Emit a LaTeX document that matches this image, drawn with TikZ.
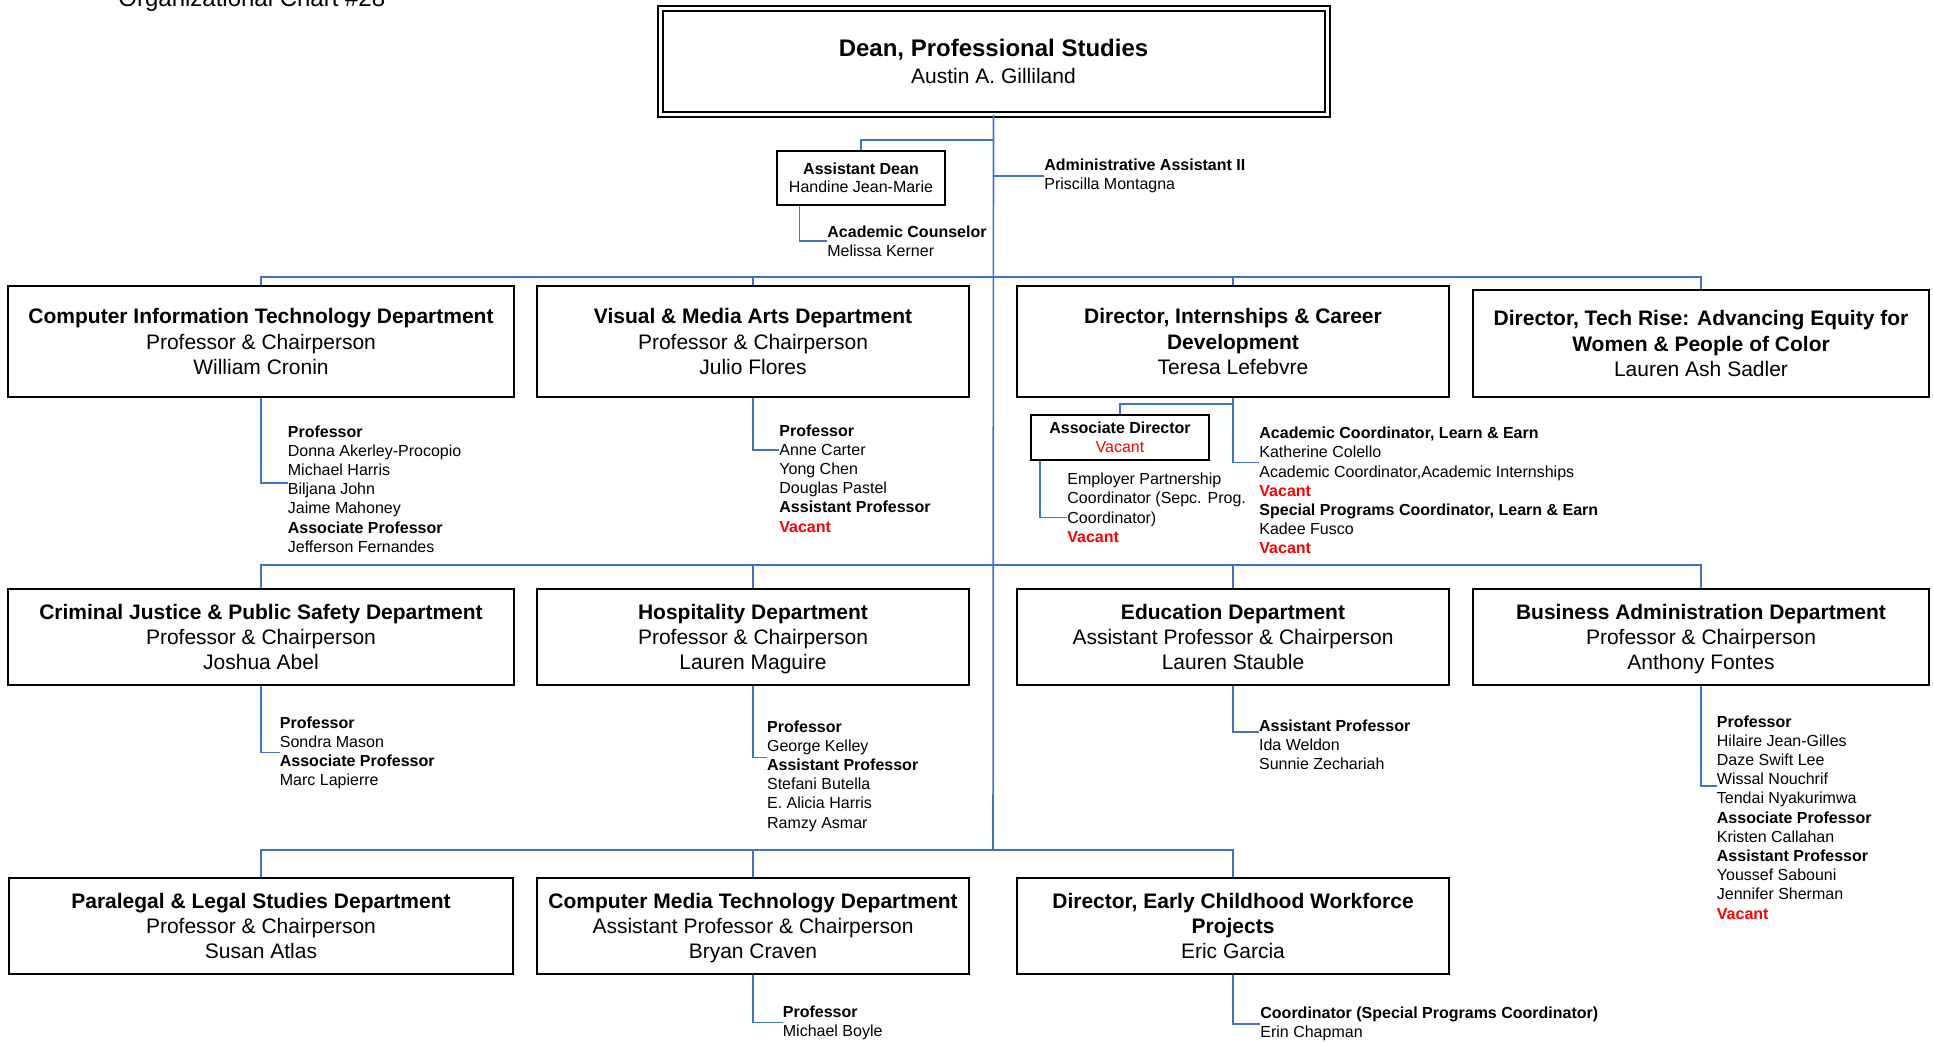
\documentclass[tikz,border=0pt]{standalone}
\usepackage{fontspec}
\setmainfont{Liberation Sans}
\usepackage{tikz}

\definecolor{linkblue}{RGB}{68,114,196}
\definecolor{vacred}{RGB}{255,0,0}
\newcommand{\vacant}{\textcolor{vacred}{\textbf{Vacant}}}

\begin{document}
\begin{tikzpicture}[x=0.5pt, y=-0.5pt,
  dept/.style={draw, line width=1pt, align=center, inner sep=2pt,
    minimum width=216pt, minimum height=48pt, font=\fontsize{10.5}{12.6}\selectfont},
  small/.style={draw, line width=1pt, align=center, inner sep=2pt,
    font=\fontsize{8}{9.4}\selectfont},
  staff/.style={anchor=north west, inner sep=0pt, align=left,
    font=\fontsize{8}{9.6}\selectfont},
  link/.style={draw=linkblue, line width=0.8pt}]
  \useasboundingbox (0,0) rectangle (1933,1041);

  \node[anchor=base west, inner sep=0pt, font=\fontsize{12}{14}\selectfont] (title) at (118,6) {Organizational Chart \#28};

  \node[draw, double, double distance=1.5pt, line width=1pt, align=center,
    minimum width=333.5pt, minimum height=52.75pt, font=\fontsize{10.5}{13.5}\selectfont]
    (dean) at (993.5,61.25) {{\fontsize{12}{13.5}\selectfont\bfseries Dean, Professional Studies}\\Austin A. Gilliland};

  \node[small, minimum width=84.4pt, minimum height=27.15pt] (adean) at (861,177.85)
    {\textbf{Assistant Dean}\\Handine Jean-Marie};
  \node[staff] (adsub) at (827,225) {\textbf{Academic Counselor}\\Melissa Kerner};
  \node[staff] (admin) at (1044,158.3) {\textbf{Administrative Assistant II}\\Priscilla Montagna};

  % first row
  \node[dept, minimum width=252.75pt, minimum height=55.5pt] (cit) at (261,341.5)
    {\textbf{Computer Information Technology Department}\\Professor \& Chairperson\\William Cronin};
  \node[dept, minimum height=55.5pt] (vma) at (753,341.5)
    {\textbf{Visual \& Media Arts Department}\\Professor \& Chairperson\\Julio Flores};
  \node[dept, minimum height=55.5pt] (di) at (1233,341.5)
    {\textbf{Director, Internships \& Career}\\\textbf{Development}\\Teresa Lefebvre};
  \node[dept, minimum width=228pt, minimum height=53.5pt] (tr) at (1701,343.5)
    {\textbf{Director, Tech Rise: Advancing Equity for}\\\textbf{Women \& People of Color}\\Lauren Ash Sadler};

  \node[staff] (citsub) at (287.5,425) {\textbf{Professor}\\Donna Akerley-Procopio\\Michael Harris\\Biljana John\\Jaime Mahoney\\\textbf{Associate Professor}\\Jefferson Fernandes};
  \node[staff] (vmasub) at (779,424) {\textbf{Professor}\\Anne Carter\\Yong Chen\\Douglas Pastel\\\textbf{Assistant Professor}\\\vacant};
  \node[small, minimum width=89pt, minimum height=22.5pt] (asdir) at (1120,437.2)
    {\textbf{Associate Director}\\\textcolor{vacred}{Vacant}};
  \node[staff] (epsub) at (1067,472.6) {Employer Partnership\\Coordinator (Sepc. Prog.\\Coordinator)\\\vacant};
  \node[staff] (disub) at (1259,426.6) {\textbf{Academic Coordinator, Learn \& Earn}\\Katherine Colello\\Academic Coordinator,Academic Internships\\\vacant\\\textbf{Special Programs Coordinator, Learn \& Earn}\\Kadee Fusco\\\vacant};

  % second row
  \node[dept, minimum width=252.75pt] (cj) at (261,637)
    {\textbf{Criminal Justice \& Public Safety Department}\\Professor \& Chairperson\\Joshua Abel};
  \node[dept] (hosp) at (753,637)
    {\textbf{Hospitality Department}\\Professor \& Chairperson\\\smash{Lauren Maguire}};
  \node[dept] (ed) at (1233,637)
    {\textbf{Education Department}\\Assistant Professor \& Chairperson\\Lauren Stauble};
  \node[dept, minimum width=228pt] (ba) at (1701,637)
    {\textbf{Business Administration Department}\\Professor \& Chairperson\\\smash{Anthony Fontes}};

  \node[staff] (cjsub) at (279.5,716) {\textbf{Professor}\\Sondra Mason\\\textbf{Associate Professor}\\Marc Lapierre};
  \node[staff] (hospsub) at (766.7,720) {\textbf{Professor}\\George Kelley\\\textbf{Assistant Professor}\\Stefani Butella\\E. Alicia Harris\\Ramzy Asmar};
  \node[staff] (edsub) at (1258.7,719) {\textbf{Assistant Professor}\\Ida Weldon\\Sunnie Zechariah};
  \node[staff] (basub) at (1716.5,715) {\textbf{Professor}\\Hilaire Jean-Gilles\\Daze Swift Lee\\Wissal Nouchrif\\Tendai Nyakurimwa\\\textbf{Associate Professor}\\Kristen Callahan\\\textbf{Assistant Professor}\\Youssef Sabouni\\Jennifer Sherman\\\vacant};

  % third row
  \node[dept, minimum width=252pt] (pl) at (261,926)
    {\textbf{Paralegal \& Legal Studies Department}\\Professor \& Chairperson\\Susan Atlas};
  \node[dept] (cmt) at (753,926)
    {\textbf{Computer Media Technology Department}\\Assistant Professor \& Chairperson\\\smash{Bryan Craven}};
  \node[dept] (ec) at (1233,926)
    {\textbf{Director, Early Childhood Workforce}\\\textbf{Projects}\\Eric Garcia};

  \node[staff] (cmtsub) at (782.5,1005) {\textbf{Professor}\\Michael Boyle};
  \node[staff] (ecsub) at (1260,1006.6) {\textbf{Coordinator (Special Programs Coordinator)}\\Erin Chapman};

  \coordinate (busa) at (993,277);
  \coordinate (busb) at (993,565);
  \coordinate (busc) at (993,850);

  \draw[link] (dean.south) -- (busc);
  \draw[link] (dean.south) ++(0,25) -| (adean.north);
  \draw[link] (dean.south |- admin.west) -- (admin.west);
  \draw[link] (adean.south west) ++(24,0) |- (adsub.west);

  \draw[link] (cit.north) |- (busa) -| (tr.north);
  \draw[link] (vma.north) -- (vma.north |- busa);
  \draw[link] (di.north) -- (di.north |- busa);
  \draw[link] (cj.north) |- (busb) -| (ba.north);
  \draw[link] (hosp.north) -- (hosp.north |- busb);
  \draw[link] (ed.north) -- (ed.north |- busb);
  \draw[link] (pl.north) |- (busc) -| (ec.north);
  \draw[link] (cmt.north) -- (cmt.north |- busc);

  \draw[link] (cit.south) |- ([yshift=2.9pt]citsub.west);
  \draw[link] (vma.south) |- ([yshift=14pt]vmasub.west);
  \draw[link] (di.south) |- ([yshift=14pt]disub.west);
  \draw[link] (di.south) ++(0,6) -| (asdir.north);
  \draw[link] (asdir.south west) ++(10,0) |- ([yshift=-5pt]epsub.west);
  \draw[link] (cj.south) |- (cjsub.west);
  \draw[link] (hosp.south) |- ([yshift=9.25pt]hospsub.west);
  \draw[link] (ed.south) |- ([yshift=6.35pt]edsub.west);
  \draw[link] (ba.south) |- ([yshift=15.5pt]basub.west);
  \draw[link] (cmt.south) |- (cmtsub.west);
  \draw[link] (ec.south) |- (ecsub.west);
\end{tikzpicture}
\end{document}
